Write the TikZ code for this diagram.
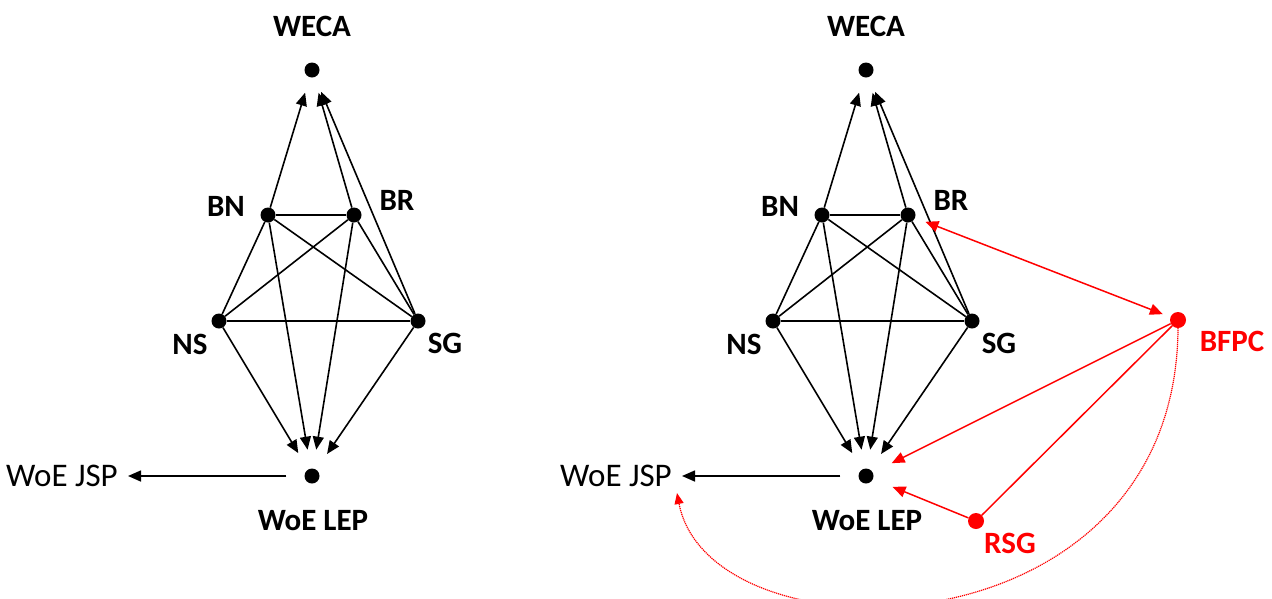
\documentclass[tikz,border=0pt]{standalone}
\usepackage{fontspec}
\setmainfont{Carlito}
\usetikzlibrary{arrows.meta}
\tikzset{
  dot/.style={circle, fill=black, inner sep=0pt, minimum size=15pt},
  rdot/.style={circle, fill=red, inner sep=0pt, minimum size=16pt},
  lbl/.style={font=\bfseries\fontsize{31}{31}\selectfont, inner sep=0pt},
  txt/.style={font=\fontsize{33}{33}\selectfont, inner sep=0pt},
  edge/.style={line width=1.6pt},
  tip/.style={-{Triangle[length=13pt,width=11pt]}},
  arr/.style={edge, tip},
  redge/.style={red, line width=1.5pt},
  rarr/.style={redge, -{Triangle[length=13pt,width=11pt]}},
}
\newcommand{\mygraph}[2]{%
\begin{scope}[xshift=#2]
  \node[dot] (#1weca) at (312,70) {};
  \node[dot] (#1bn) at (268,215) {};
  \node[dot] (#1br) at (354,215) {};
  \node[dot] (#1ns) at (219,321) {};
  \node[dot] (#1sg) at (418,321) {};
  \node[dot] (#1lep) at (312,476) {};
  \node[lbl] (#1wecal) at (312,26) {WECA};
  \node[lbl] (#1bnl) at (226,206) {BN};
  \node[lbl] (#1brl) at (397,200) {BR};
  \node[lbl] (#1nsl) at (190,344) {NS};
  \node[lbl] (#1sgl) at (445,343) {SG};
  \node[lbl] (#1lepl) at (313,521) {WoE LEP};
  \node[txt, anchor=east] (#1jsp) at (118,476) {WoE JSP};
  \draw[edge] (#1bn) -- (#1br);
  \draw[edge] (#1bn) -- (#1ns);
  \draw[edge] (#1bn) -- (#1sg);
  \draw[edge] (#1br) -- (#1ns);
  \draw[edge] (#1br) -- (#1sg);
  \draw[edge] (#1ns) -- (#1sg);
  \draw[arr, shorten >=16pt] (#1bn) -- (#1weca);
  \draw[arr, shorten >=16pt] (#1br) -- (#1weca);
  \draw[arr, shorten >=16pt] (#1sg) -- (#1weca);
  \draw[arr, shorten >=19pt] (#1ns) -- (#1lep);
  \draw[arr, shorten >=19pt] (#1bn) -- (#1lep);
  \draw[arr, shorten >=19pt] (#1br) -- (#1lep);
  \draw[arr, shorten >=19pt] (#1sg) -- (#1lep);
  \draw[arr, shorten <=18pt, shorten >=10pt] (#1lep) -- (#1lep -| #1jsp.east);
\end{scope}}
\begin{document}
\begin{tikzpicture}[x=1pt, y=-1pt]
\useasboundingbox (0,0) rectangle (1272,598);
\mygraph{L}{0pt}
\mygraph{R}{554pt}
\node[rdot] (bfpc) at (1178,320) {};
\node[rdot] (rsg) at (976,521) {};
\node[lbl, text=red] (bfpcl) at (1232,341) {BFPC};
\node[lbl, text=red] (rsgl) at (1010,543) {RSG};
\coordinate (jspin) at (677,493);
\draw[redge, {Triangle[length=13pt,width=11pt]}-{Triangle[length=13pt,width=11pt]}, shorten <=11pt, shorten >=8pt] (Rbr) -- (bfpc);
\draw[rarr, shorten >=21pt] (bfpc) -- (Rlep);
\draw[rarr, shorten >=21pt] (rsg) -- (Rlep);
\draw[redge] (bfpc) -- (rsg);
\draw[red, line width=1.2pt, dash pattern=on 1.2pt off 0.8pt, -{Triangle[length=11pt,width=9pt]}] (bfpc.south) .. controls (1176,660) and (710,665) .. (jspin);
\end{tikzpicture}
\end{document}
